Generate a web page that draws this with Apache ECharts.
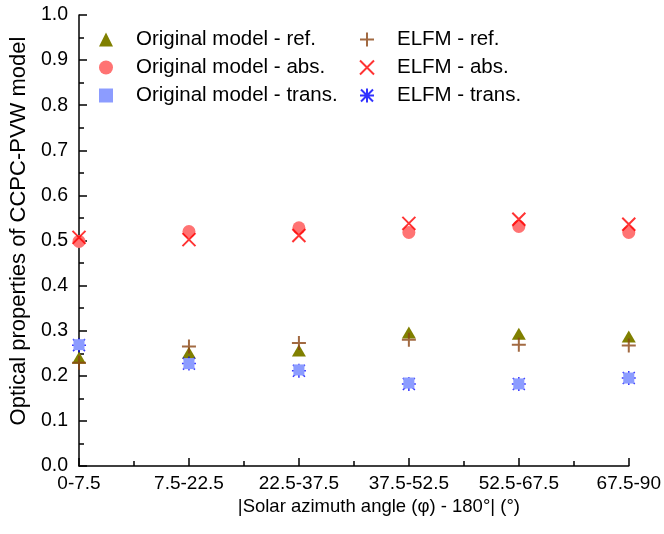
<!DOCTYPE html>
<html>
<head>
<meta charset="utf-8">
<script src="https://cdn.jsdelivr.net/npm/echarts@6/dist/echarts.min.js"></script>
<style>
  html, body { margin: 0; padding: 0; background: #fff; }
  #chart { width: 664px; height: 534px; }
</style>
</head>
<body>
<div id="chart"></div>
<script>
// categories on the x axis (|solar azimuth - 180|, deg)
const categories = ['0-7.5', '7.5-22.5', '22.5-37.5', '37.5-52.5', '52.5-67.5', '67.5-90']
const yTicks = [0, 0.1, 0.2, 0.3, 0.4, 0.5, 0.6, 0.7, 0.8, 0.9, 1.0]

// values
const origRef = [0.240, 0.251, 0.256, 0.296, 0.293, 0.287]
const origAbs = [0.498, 0.520, 0.528, 0.518, 0.531, 0.518]
const origTrans = [0.269, 0.227, 0.213, 0.184, 0.182, 0.195]
const elfmRef = [0.229, 0.265, 0.273, 0.280, 0.269, 0.267]
const elfmAbs = [0.507, 0.502, 0.511, 0.538, 0.547, 0.536]
const elfmTrans = [0.268, 0.227, 0.211, 0.182, 0.182, 0.195]

const FONT = 'Liberation Sans'

// open symbols, stroked only
const plusPath = 'path://M0,7 L14,7 M7,0 L7,14'
const crossPath = 'path://M0,0 L14,14 M14,0 L0,14'
const starPath = 'path://M7,0 L7,14 M1,1 L13,13 M13,1 L1,13 M0,7 L14,7'

const toPoints = (arr) => arr.map((v, i) => [i, v])

function scatter(name, data, symbol, size, color, lineW) {
  const s = {
    name: name,
    type: 'scatter',
    data: toPoints(data),
    symbol: symbol,
    symbolSize: size,
    itemStyle: { color: color, opacity: 1 }
  }
  if (lineW) {
    s.itemStyle = { color: 'rgba(0,0,0,0)', borderColor: color, borderWidth: lineW }
  }
  return s
}

const legendBase = {
  orient: 'vertical',
  top: 24,
  itemWidth: 14,
  itemHeight: 14,
  itemGap: 7,
  textStyle: { fontFamily: FONT, fontSize: 20.5, color: '#000', lineHeight: 20, padding: [0, 0, 0, 18] }
}

const option = {
  animation: false,
  backgroundColor: '#fff',
  textStyle: { fontFamily: FONT },
  grid: { left: 71, right: 34, top: 15, bottom: 68 },
  legend: [
    Object.assign({}, legendBase, {
      left: 94,
      data: ['Original model - ref.', 'Original model - abs.', 'Original model - trans.']
    }),
    Object.assign({}, legendBase, {
      left: 354,
      data: ['ELFM - ref.', 'ELFM - abs.', 'ELFM - trans.']
    })
  ],
  xAxis: {
    type: 'value',
    min: 0,
    max: categories.length - 1,
    interval: 1,
    name: '|Solar azimuth angle (\u03c6) - 180\u00b0| (\u00b0)',
    nameLocation: 'middle',
    nameGap: 29,
    nameTextStyle: { fontFamily: FONT, fontSize: 18.5, color: '#000', padding: [0, 0, 0, 50] },
    axisLine: { lineStyle: { color: '#000', width: 1.5 } },
    axisTick: { inside: true, length: 8, lineStyle: { color: '#000', width: 1.5 } },
    minorTick: { show: true, splitNumber: 2, length: 5, lineStyle: { color: '#000', width: 1.5 } },
    axisLabel: {
      fontFamily: FONT, fontSize: 19, color: '#000', margin: 8,
      formatter: (v) => categories[v]
    },
    splitLine: { show: false }
  },
  yAxis: {
    type: 'value',
    min: yTicks[0],
    max: yTicks[yTicks.length - 1],
    interval: 0.1,
    name: 'Optical properties of CCPC-PVW model',
    nameLocation: 'middle',
    nameGap: 40,
    nameTextStyle: { fontFamily: FONT, fontSize: 22, color: '#000', padding: [0, 0, 0, 19] },
    axisLine: { show: true, lineStyle: { color: '#000', width: 1.5 } },
    axisTick: { show: true, inside: true, length: 8, lineStyle: { color: '#000', width: 1.5 } },
    minorTick: { show: true, splitNumber: 2, length: 5, lineStyle: { color: '#000', width: 1.5 } },
    axisLabel: {
      fontFamily: FONT, fontSize: 19.5, color: '#000', margin: 11,
      formatter: (v) => v.toFixed(1)
    },
    splitLine: { show: false }
  },
  // asterisks go under the squares, as in the source picture
  series: [
    scatter('Original model - ref.', origRef, 'triangle', [14, 12], '#808000'),
    scatter('Original model - abs.', origAbs, 'circle', 13, '#ff7373'),
    scatter('ELFM - trans.', elfmTrans, starPath, 14, '#0000ff', 1.5),
    scatter('Original model - trans.', origTrans, 'rect', 11, '#8c9cff'),
    scatter('ELFM - ref.', elfmRef, plusPath, 14, '#8b4513', 2),
    scatter('ELFM - abs.', elfmAbs, crossPath, 13, '#ff0000', 2)
  ]
}

const myChart = echarts.init(document.getElementById('chart'))
myChart.setOption(option)
</script>
</body>
</html>
